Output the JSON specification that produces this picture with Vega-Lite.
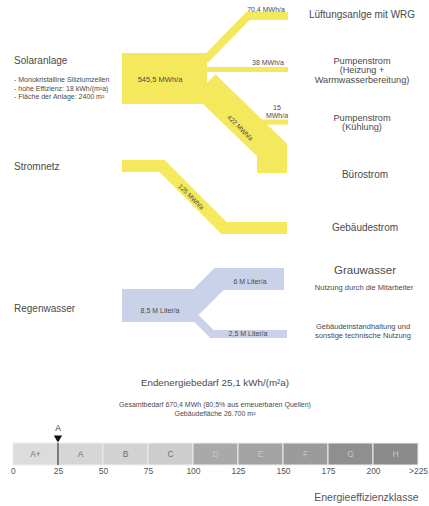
{
  "$schema": "https://vega.github.io/schema/vega-lite/v6.json",
  "padding": 0,
  "spacing": 0,
  "background": "white",
  "resolve": {"scale": {"color": "independent"}},
  "config": {"view": {"stroke": null}, "font": "Liberation Sans", "text": {"color": "#4a4a4a"}},
  "datasets": {
    "bands": [
      {"flow": "Lüftung", "kind": "energy", "order": 1, "x": 205, "y": 60},
      {"flow": "Lüftung", "kind": "energy", "order": 2, "x": 248, "y": 16},
      {"flow": "Lüftung", "kind": "energy", "order": 3, "x": 288, "y": 16},
      {"flow": "Heizung", "kind": "energy", "order": 1, "x": 200, "y": 69.5},
      {"flow": "Heizung", "kind": "energy", "order": 2, "x": 288, "y": 69.5},
      {"flow": "Kühlung", "kind": "energy", "order": 1, "x": 225, "y": 100},
      {"flow": "Kühlung", "kind": "energy", "order": 2, "x": 247, "y": 122},
      {"flow": "Kühlung", "kind": "energy", "order": 3, "x": 288, "y": 122},
      {"flow": "Büro", "kind": "energy", "order": 1, "x": 205, "y": 85},
      {"flow": "Büro", "kind": "energy", "order": 2, "x": 272, "y": 150},
      {"flow": "Büro", "kind": "energy", "order": 3, "x": 272, "y": 173},
      {"flow": "Gebäude", "kind": "energy", "order": 1, "x": 122, "y": 166},
      {"flow": "Gebäude", "kind": "energy", "order": 2, "x": 162, "y": 166},
      {"flow": "Gebäude", "kind": "energy", "order": 3, "x": 224, "y": 228},
      {"flow": "Gebäude", "kind": "energy", "order": 4, "x": 287, "y": 228},
      {"flow": "Grauwasser", "kind": "water", "order": 1, "x": 188, "y": 310},
      {"flow": "Grauwasser", "kind": "water", "order": 2, "x": 219, "y": 279},
      {"flow": "Grauwasser", "kind": "water", "order": 3, "x": 284, "y": 279},
      {"flow": "Instandhaltung", "kind": "water", "order": 1, "x": 190, "y": 312},
      {"flow": "Instandhaltung", "kind": "water", "order": 2, "x": 212, "y": 334},
      {"flow": "Instandhaltung", "kind": "water", "order": 3, "x": 287, "y": 334}
    ],
    "nodes": [
      {"node": "Solaranlage", "kind": "energy", "x": 122, "x2": 207, "y": 53, "y2": 104},
      {"node": "Regenwasser", "kind": "water", "x": 122, "x2": 197, "y": 289, "y2": 322}
    ],
    "leftTitles": [
      {"t": "Solaranlage", "x": 14, "y": 61},
      {"t": "Stromnetz", "x": 14, "y": 167},
      {"t": "Regenwasser", "x": 14, "y": 309}
    ],
    "leftNotes": [
      {"t": "- Monokristalline Siliziumzellen", "x": 14, "y": 80},
      {"t": "- hohe Effizienz: 18 kWh/(m²a)", "x": 14, "y": 88.5},
      {"t": "- Fläche der Anlage: 2400 m²", "x": 14, "y": 97}
    ],
    "rightTitles": [
      {"t": "Lüftungsanlge mit WRG", "x": 362, "y": 15},
      {"t": "Bürostrom", "x": 365, "y": 175},
      {"t": "Gebäudestrom", "x": 365, "y": 228}
    ],
    "rightStacked": [
      {"t": "Pumpenstrom", "x": 362, "y": 60.5},
      {"t": "(Heizung +", "x": 362, "y": 70},
      {"t": "Warmwasserbereitung)", "x": 362, "y": 79.5},
      {"t": "Pumpenstrom", "x": 362, "y": 117.5},
      {"t": "(Kühlung)", "x": 362, "y": 127}
    ],
    "waterTitle": [
      {"t": "Grauwasser", "x": 365, "y": 271}
    ],
    "rightNotes": [
      {"t": "Nutzung durch die Mitarbeiter", "x": 364, "y": 288},
      {"t": "Gebäudeinstandhaltung und", "x": 363, "y": 326.5},
      {"t": "sonstige technische Nutzung", "x": 363, "y": 335.5}
    ],
    "flowLabels": [
      {"t": "70,4 MWh/a", "x": 266, "y": 10},
      {"t": "38 MWh/a", "x": 268, "y": 63},
      {"t": "15", "x": 277, "y": 108},
      {"t": "MWh/a", "x": 277, "y": 116},
      {"t": "6 M Liter/a", "x": 250, "y": 282},
      {"t": "8,5 M Liter/a", "x": 160, "y": 311},
      {"t": "2,5 M Liter/a", "x": 248, "y": 334}
    ],
    "mainLabel": [
      {"t": "545,5 MWh/a", "x": 160, "y": 80}
    ],
    "rotLabels": [
      {"t": "422 MWh/a", "x": 240, "y": 128},
      {"t": "125 MWh/a", "x": 191, "y": 197}
    ],
    "summary": [
      {"t": "Gesamtbedarf 670,4 MWh (80,5% aus erneuerbaren Quellen)", "x": 215, "y": 405},
      {"t": "Gebäudefläche 26.700 m²", "x": 215, "y": 413.5}
    ],
    "headline": [
      {"t": "Endenergiebedarf 25,1 kWh/(m²a)", "x": 215, "y": 383}
    ],
    "classes": [
      {"cls": "A+", "start": 0, "end": 25, "mid": 12.5},
      {"cls": "A", "start": 25, "end": 50, "mid": 37.5},
      {"cls": "B", "start": 50, "end": 75, "mid": 62.5},
      {"cls": "C", "start": 75, "end": 100, "mid": 87.5},
      {"cls": "D", "start": 100, "end": 125, "mid": 112.5},
      {"cls": "E", "start": 125, "end": 150, "mid": 137.5},
      {"cls": "F", "start": 150, "end": 175, "mid": 162.5},
      {"cls": "G", "start": 175, "end": 200, "mid": 187.5},
      {"cls": "H", "start": 200, "end": 225, "mid": 212.5}
    ],
    "rating": [
      {"value": 25, "label": "A"}
    ]
  },
  "vconcat": [
    {
      "width": 429,
      "height": 420,
      "encoding": {
        "x": {"field": "x", "type": "quantitative", "scale": {"domain": [0, 429], "nice": false, "zero": false}, "axis": null},
        "y": {"field": "y", "type": "quantitative", "scale": {"domain": [0, 420], "nice": false, "zero": false, "reverse": true}, "axis": null}
      },
      "layer": [
        {
          "data": {"name": "bands"},
          "transform": [{"filter": {"field": "flow", "oneOf": ["Heizung", "Kühlung"]}}],
          "mark": {"type": "line", "strokeWidth": 5, "strokeCap": "butt", "strokeJoin": "miter"},
          "encoding": {
            "detail": {"field": "flow"},
            "order": {"field": "order", "type": "quantitative"},
            "color": {"field": "kind", "type": "nominal", "scale": {"domain": ["energy", "water"], "range": ["#f4e95c", "#c9d2e8"]}, "legend": null}
          }
        },
        {
          "data": {"name": "bands"},
          "transform": [{"filter": {"field": "flow", "oneOf": ["Lüftung", "Instandhaltung"]}}],
          "mark": {"type": "line", "strokeWidth": 8, "strokeCap": "butt", "strokeJoin": "miter"},
          "encoding": {
            "detail": {"field": "flow"},
            "order": {"field": "order", "type": "quantitative"},
            "color": {"field": "kind", "type": "nominal", "legend": null}
          }
        },
        {
          "data": {"name": "bands"},
          "transform": [{"filter": {"field": "flow", "equal": "Gebäude"}}],
          "mark": {"type": "line", "strokeWidth": 12, "strokeCap": "butt", "strokeJoin": "miter"},
          "encoding": {
            "order": {"field": "order", "type": "quantitative"},
            "color": {"field": "kind", "type": "nominal", "legend": null}
          }
        },
        {
          "data": {"name": "bands"},
          "transform": [{"filter": {"field": "flow", "equal": "Grauwasser"}}],
          "mark": {"type": "line", "strokeWidth": 22, "strokeCap": "butt", "strokeJoin": "miter"},
          "encoding": {
            "order": {"field": "order", "type": "quantitative"},
            "color": {"field": "kind", "type": "nominal", "legend": null}
          }
        },
        {
          "data": {"name": "bands"},
          "transform": [{"filter": {"field": "flow", "equal": "Büro"}}],
          "mark": {"type": "line", "strokeWidth": 30, "strokeCap": "butt", "strokeJoin": "miter"},
          "encoding": {
            "order": {"field": "order", "type": "quantitative"},
            "color": {"field": "kind", "type": "nominal", "legend": null}
          }
        },
        {
          "data": {"name": "nodes"},
          "mark": {"type": "rect"},
          "encoding": {
            "x2": {"field": "x2"},
            "y2": {"field": "y2"},
            "color": {"field": "kind", "type": "nominal", "legend": null}
          }
        },
        {
          "data": {"name": "leftTitles"},
          "mark": {"type": "text", "align": "left", "baseline": "middle", "fontSize": 10},
          "encoding": {"text": {"field": "t"}}
        },
        {
          "data": {"name": "leftNotes"},
          "mark": {"type": "text", "align": "left", "baseline": "middle", "fontSize": 7},
          "encoding": {"text": {"field": "t"}}
        },
        {
          "data": {"name": "rightTitles"},
          "mark": {"type": "text", "align": "center", "baseline": "middle", "fontSize": 10},
          "encoding": {"text": {"field": "t"}}
        },
        {
          "data": {"name": "rightStacked"},
          "mark": {"type": "text", "align": "center", "baseline": "middle", "fontSize": 9.2},
          "encoding": {"text": {"field": "t"}}
        },
        {
          "data": {"name": "waterTitle"},
          "mark": {"type": "text", "align": "center", "baseline": "middle", "fontSize": 11.5},
          "encoding": {"text": {"field": "t"}}
        },
        {
          "data": {"name": "rightNotes"},
          "mark": {"type": "text", "align": "center", "baseline": "middle", "fontSize": 7.5},
          "encoding": {"text": {"field": "t"}}
        },
        {
          "data": {"name": "flowLabels"},
          "mark": {"type": "text", "align": "center", "baseline": "middle", "fontSize": 7},
          "encoding": {"text": {"field": "t"}}
        },
        {
          "data": {"name": "mainLabel"},
          "mark": {"type": "text", "align": "center", "baseline": "middle", "fontSize": 7.5},
          "encoding": {"text": {"field": "t"}}
        },
        {
          "data": {"name": "rotLabels"},
          "mark": {"type": "text", "align": "center", "baseline": "middle", "fontSize": 6.5, "angle": 45},
          "encoding": {"text": {"field": "t"}}
        },
        {
          "data": {"name": "headline"},
          "mark": {"type": "text", "align": "center", "baseline": "middle", "fontSize": 9.8},
          "encoding": {"text": {"field": "t"}}
        },
        {
          "data": {"name": "summary"},
          "mark": {"type": "text", "align": "center", "baseline": "middle", "fontSize": 7},
          "encoding": {"text": {"field": "t"}}
        }
      ]
    },
    {
      "width": 429,
      "height": 45,
      "layer": [
        {
          "data": {"name": "classes"},
          "mark": {"type": "rect", "stroke": "#eeeeee", "strokeWidth": 1},
          "encoding": {
            "x": {"field": "start", "type": "quantitative",
              "scale": {"domain": [-7.2, 231.1], "nice": false, "zero": false},
              "axis": {
                "values": [0, 25, 50, 75, 100, 125, 150, 175, 200, 225],
                "labelExpr": "datum.value == 225 ? '>225' : datum.label",
                "domain": false, "ticks": false, "grid": false,
                "labelFontSize": 8.5, "labelColor": "#555555", "labelPadding": 1,
                "labelFlush": false, "labelOverlap": false,
                "title": "Energieeffizienzklasse", "titleFontSize": 10.5, "titleFontWeight": "normal",
                "titleColor": "#555555", "titleX": 418, "titleY": 32, "titleAlign": "right", "titleBaseline": "middle"
              }},
            "x2": {"field": "end"},
            "y": {"datum": 0, "type": "quantitative", "scale": {"domain": [0, 45], "nice": false, "zero": false}, "axis": null},
            "y2": {"datum": 22},
            "color": {"field": "cls", "type": "nominal",
              "scale": {"domain": ["A+", "A", "B", "C", "D", "E", "F", "G", "H"],
                "range": ["#dcdcdc", "#d6d6d6", "#d2d2d2", "#cdcdcd", "#a9a9a9", "#a3a3a3", "#9b9b9b", "#8f8f8f", "#8a8a8a"]},
              "legend": null}
          }
        },
        {
          "data": {"name": "classes"},
          "mark": {"type": "text", "align": "center", "baseline": "middle", "fontSize": 8.5},
          "encoding": {
            "x": {"field": "mid", "type": "quantitative"},
            "y": {"datum": 11, "type": "quantitative"},
            "text": {"field": "cls"},
            "color": {"condition": {"test": "datum.start >= 100", "value": "#c8c8c8"}, "value": "#707070"}
          }
        },
        {
          "data": {"name": "rating"},
          "mark": {"type": "rule", "color": "#333333", "strokeWidth": 1.2},
          "encoding": {
            "x": {"field": "value", "type": "quantitative"},
            "y": {"datum": 0, "type": "quantitative"},
            "y2": {"datum": 22}
          }
        },
        {
          "data": {"name": "rating"},
          "mark": {"type": "point", "shape": "triangle-down", "filled": true, "color": "#111111", "size": 70, "opacity": 1},
          "encoding": {
            "x": {"field": "value", "type": "quantitative"},
            "y": {"datum": 26, "type": "quantitative"}
          }
        },
        {
          "data": {"name": "rating"},
          "mark": {"type": "text", "align": "center", "baseline": "middle", "fontSize": 8.5, "color": "#333333"},
          "encoding": {
            "x": {"field": "value", "type": "quantitative"},
            "y": {"datum": 37, "type": "quantitative"},
            "text": {"field": "label"}
          }
        }
      ]
    }
  ]
}
